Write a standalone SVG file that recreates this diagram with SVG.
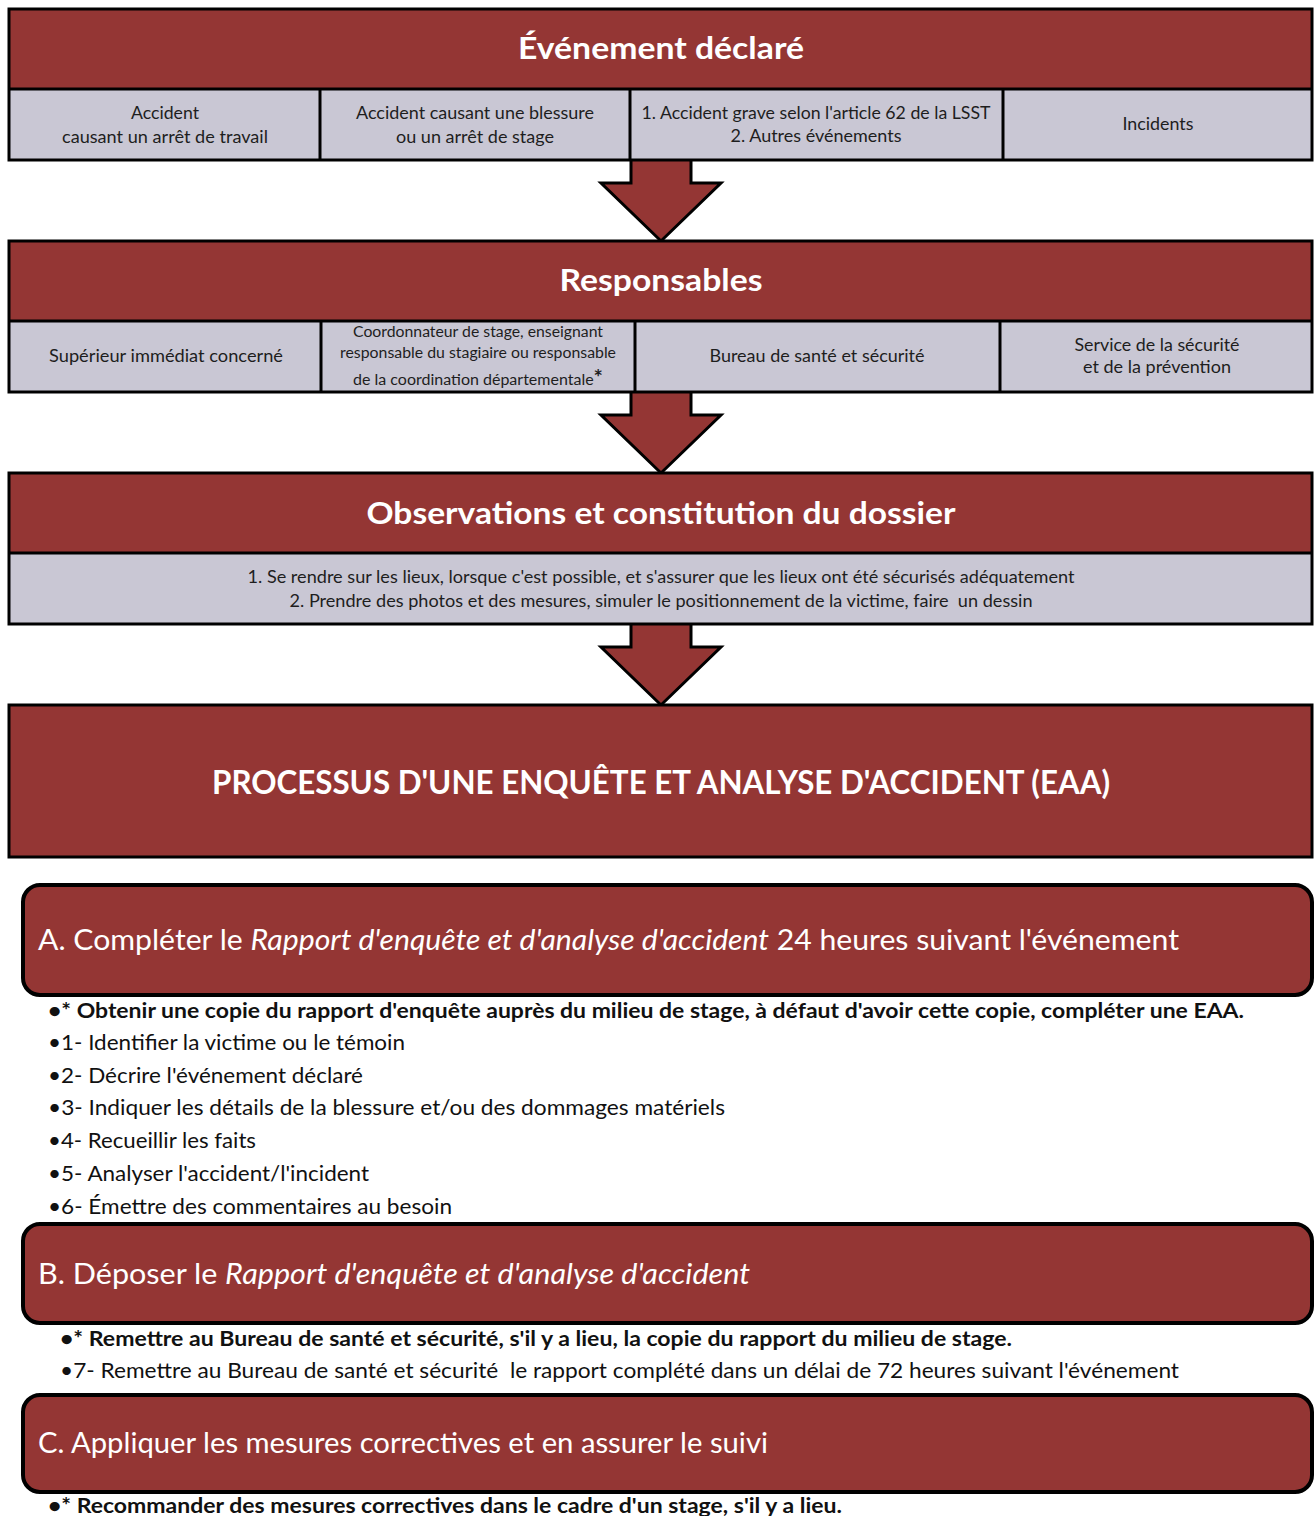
<svg xmlns="http://www.w3.org/2000/svg" width="1315" height="1516" viewBox="0 0 1315 1516">
<style>
.hdr{fill:#943634}
.cell{fill:#C9C7D4}
.frame{fill:none;stroke:#000;stroke-width:3}
.ln{stroke:#000;stroke-width:3}
.arrow{fill:#943634;stroke:#000;stroke-width:3;stroke-linejoin:miter}
.rbox{fill:#943634;stroke:#000;stroke-width:4}
text{font-family:Lato,"Open Sans","Liberation Sans",sans-serif}
.title{font-weight:bold;fill:#fff;font-size:31px;text-anchor:middle}
.big{font-weight:bold;fill:#fff;font-size:33px;text-anchor:middle}
.ct{fill:#1e1e1e;font-size:16.5px;text-anchor:middle}
.cs{fill:#1e1e1e;font-size:14.5px;text-anchor:middle}
.step{fill:#fff;font-size:28px}
.bul{fill:#111;font-size:21px}
.b{font-weight:bold}
</style>
<rect width="1315" height="1516" fill="#fff"/>

<g id="connectors">
  <path class="arrow" d="M631,161 L631,183 L601,183 L661,241 L721,183 L691,183 L691,161"/>
  <path class="arrow" d="M631,393 L631,415 L601,415 L661,473 L721,415 L691,415 L691,393"/>
  <path class="arrow" d="M631,625 L631,647 L601,647 L661,705 L721,647 L691,647 L691,625"/>
</g>

<g id="evenement">
  <rect class="hdr" x="9" y="9" width="1303" height="80"/>
  <rect class="cell" x="9" y="89" width="1303" height="71"/>
  <line class="ln" x1="9" y1="89" x2="1312" y2="89"/>
  <line class="ln" x1="320" y1="89" x2="320" y2="160"/>
  <line class="ln" x1="630" y1="89" x2="630" y2="160"/>
  <line class="ln" x1="1003" y1="89" x2="1003" y2="160"/>
  <rect class="frame" x="9" y="9" width="1303" height="151"/>
  <text class="title" x="661" y="59" textLength="286" lengthAdjust="spacingAndGlyphs">Événement déclaré</text>
  <text class="ct" x="165" y="119" textLength="68" lengthAdjust="spacingAndGlyphs">Accident</text>
  <text class="ct" x="165" y="143" textLength="206" lengthAdjust="spacingAndGlyphs">causant un arrêt de travail</text>
  <text class="ct" x="475" y="119" textLength="238" lengthAdjust="spacingAndGlyphs">Accident causant une blessure</text>
  <text class="ct" x="475" y="143" textLength="158" lengthAdjust="spacingAndGlyphs">ou un arrêt de stage</text>
  <text class="ct" x="816" y="119" textLength="349" lengthAdjust="spacingAndGlyphs">1. Accident grave selon l'article 62 de la LSST</text>
  <text class="ct" x="816" y="142" textLength="171" lengthAdjust="spacingAndGlyphs">2. Autres événements</text>
  <text class="ct" x="1158" y="130" textLength="71" lengthAdjust="spacingAndGlyphs">Incidents</text>
</g>

<g id="responsables">
  <rect class="hdr" x="9" y="241" width="1303" height="80"/>
  <rect class="cell" x="9" y="321" width="1303" height="71"/>
  <line class="ln" x1="9" y1="321" x2="1312" y2="321"/>
  <line class="ln" x1="321" y1="321" x2="321" y2="392"/>
  <line class="ln" x1="635" y1="321" x2="635" y2="392"/>
  <line class="ln" x1="1000" y1="321" x2="1000" y2="392"/>
  <rect class="frame" x="9" y="241" width="1303" height="151"/>
  <text class="title" x="661" y="291" textLength="203" lengthAdjust="spacingAndGlyphs">Responsables</text>
  <text class="ct" x="166" y="362" textLength="234" lengthAdjust="spacingAndGlyphs">Supérieur immédiat concerné</text>
  <text class="cs" x="478" y="337" textLength="250" lengthAdjust="spacingAndGlyphs">Coordonnateur de stage, enseignant</text>
  <text class="cs" x="478" y="358" textLength="276" lengthAdjust="spacingAndGlyphs">responsable du stagiaire ou responsable</text>
  <text class="cs" x="478" y="385" textLength="250" lengthAdjust="spacingAndGlyphs">de la coordination départementale<tspan class="b" font-size="20">*</tspan></text>
  <text class="ct" x="817" y="362" textLength="215" lengthAdjust="spacingAndGlyphs">Bureau de santé et sécurité</text>
  <text class="ct" x="1157" y="351" textLength="165" lengthAdjust="spacingAndGlyphs">Service de la sécurité</text>
  <text class="ct" x="1157" y="373" textLength="148" lengthAdjust="spacingAndGlyphs">et de la prévention</text>
</g>

<g id="observations">
  <rect class="hdr" x="9" y="473" width="1303" height="80"/>
  <rect class="cell" x="9" y="553" width="1303" height="71"/>
  <line class="ln" x1="9" y1="553" x2="1312" y2="553"/>
  <rect class="frame" x="9" y="473" width="1303" height="151"/>
  <text class="title" x="661" y="524" textLength="589" lengthAdjust="spacingAndGlyphs">Observations et constitution du dossier</text>
  <text class="ct" x="661" y="583" textLength="827" lengthAdjust="spacingAndGlyphs">1. Se rendre sur les lieux, lorsque c'est possible, et s'assurer que les lieux ont été sécurisés adéquatement</text>
  <text class="ct" x="661" y="607" textLength="743" lengthAdjust="spacingAndGlyphs" xml:space="preserve">2. Prendre des photos et des mesures, simuler le positionnement de la victime, faire  un dessin</text>
</g>

<g id="processus">
  <rect class="hdr" x="9" y="705" width="1303" height="152"/>
  <rect class="frame" x="9" y="705" width="1303" height="152"/>
  <text class="big" x="661" y="794" textLength="898" lengthAdjust="spacingAndGlyphs">PROCESSUS D'UNE ENQUÊTE ET ANALYSE D'ACCIDENT (EAA)</text>
</g>

<g id="etape-a">
  <rect class="rbox" x="23" y="885" width="1289" height="110" rx="17"/>
  <text class="step" x="38" y="950" textLength="1141" lengthAdjust="spacingAndGlyphs">A. Compléter le <tspan font-style="italic">Rapport d'enquête et d'analyse d'accident</tspan> 24 heures suivant l'événement</text>
  <text class="bul b" x="48" y="1018" textLength="1196" lengthAdjust="spacingAndGlyphs">•* Obtenir une copie du rapport d'enquête auprès du milieu de stage, à défaut d'avoir cette copie, compléter une EAA.</text>
  <text class="bul" x="48" y="1050" textLength="357" lengthAdjust="spacingAndGlyphs">•1- Identifier la victime ou le témoin</text>
  <text class="bul" x="48" y="1083" textLength="315" lengthAdjust="spacingAndGlyphs">•2- Décrire l'événement déclaré</text>
  <text class="bul" x="48" y="1115" textLength="677" lengthAdjust="spacingAndGlyphs">•3- Indiquer les détails de la blessure et/ou des dommages matériels</text>
  <text class="bul" x="48" y="1148" textLength="208" lengthAdjust="spacingAndGlyphs">•4- Recueillir les faits</text>
  <text class="bul" x="48" y="1181" textLength="321" lengthAdjust="spacingAndGlyphs">•5- Analyser l'accident/l'incident</text>
  <text class="bul" x="48" y="1214" textLength="404" lengthAdjust="spacingAndGlyphs">•6- Émettre des commentaires au besoin</text>
</g>

<g id="etape-b">
  <rect class="rbox" x="23" y="1224" width="1289" height="99" rx="17"/>
  <text class="step" x="38" y="1284" textLength="712" lengthAdjust="spacingAndGlyphs">B. Déposer le <tspan font-style="italic">Rapport d'enquête et d'analyse d'accident</tspan></text>
  <text class="bul b" x="60" y="1346" textLength="952" lengthAdjust="spacingAndGlyphs">•* Remettre au Bureau de santé et sécurité, s'il y a lieu, la copie du rapport du milieu de stage.</text>
  <text class="bul" x="60" y="1378" textLength="1119" lengthAdjust="spacingAndGlyphs" xml:space="preserve">•7- Remettre au Bureau de santé et sécurité  le rapport complété dans un délai de 72 heures suivant l'événement</text>
</g>

<g id="etape-c">
  <rect class="rbox" x="23" y="1395" width="1289" height="97" rx="17"/>
  <text class="step" x="38" y="1453" textLength="730" lengthAdjust="spacingAndGlyphs">C. Appliquer les mesures correctives et en assurer le suivi</text>
  <text class="bul b" x="48" y="1513" textLength="794" lengthAdjust="spacingAndGlyphs">•* Recommander des mesures correctives dans le cadre d'un stage, s'il y a lieu.</text>
</g>
</svg>
